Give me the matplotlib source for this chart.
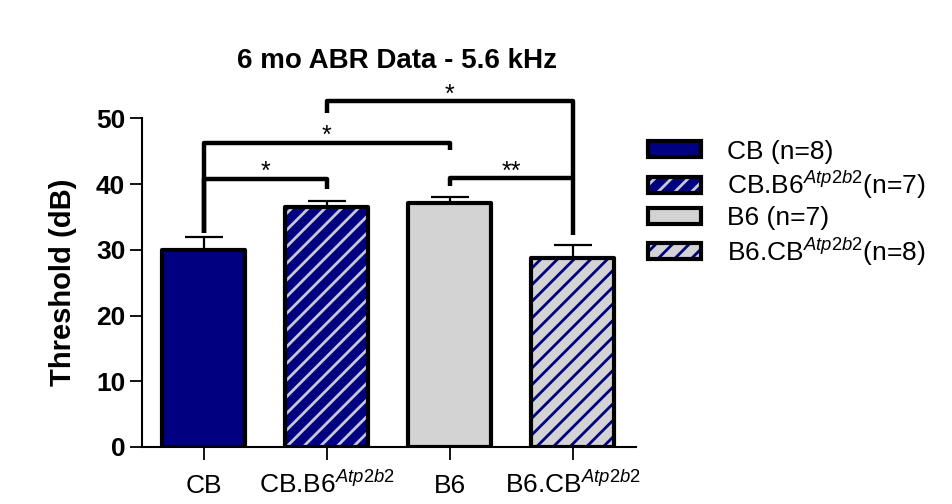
import matplotlib
matplotlib.use("Agg")
import matplotlib.pyplot as plt
from matplotlib.patches import Patch
from matplotlib.legend_handler import HandlerTuple

plt.rcParams['font.family'] = ['Liberation Sans', 'DejaVu Sans']
plt.rcParams['mathtext.fontset'] = 'custom'
plt.rcParams['mathtext.rm'] = 'Liberation Sans'
plt.rcParams['mathtext.it'] = 'Liberation Sans:italic'
plt.rcParams['mathtext.bf'] = 'Liberation Sans:bold'
plt.rcParams['hatch.linewidth'] = 2.0

# ---- data ----
categories = ['CB', r'CB.B6$^{\mathit{Atp2b2}}$', 'B6', r'B6.CB$^{\mathit{Atp2b2}}$']
legend_labels = ['CB (n=8)', r'CB.B6$^{\mathit{Atp2b2}}$(n=7)', 'B6 (n=7)',
                 r'B6.CB$^{\mathit{Atp2b2}}$(n=8)']
means = [30.0, 36.5, 37.1, 28.8]
sems = [1.9, 0.9, 1.0, 2.0]
yticks = [0, 10, 20, 30, 40, 50]

# significance brackets: (left group, right group, bar height, left leg end, right leg end, label)
sig_left = [0, 0, 1, 2]
sig_right = [1, 2, 3, 3]
sig_height = [40.8, 46.3, 52.6, 40.9]
sig_left_end = [32.6, 32.6, 50.8, 39.7]
sig_right_end = [39.2, 45.2, 32.3, 40.9]
sig_labels = ['*', '*', '*', '**']

navy = '#000080'
lgray = '#d3d3d3'
hatch_on_navy = '#c8c8d4'
face_colors = [navy, navy, lgray, lgray]
hatch_colors = [navy, hatch_on_navy, lgray, navy]
hatches = [None, '//', None, '//']

fig = plt.figure(figsize=(9.52, 5.04), dpi=100)
ax = fig.add_axes([142/952, 1-447/504, (636-142)/952, (447-118.5)/504])

x = list(range(len(categories)))
width = 0.675
handles = []
for i in x:
    ax.bar(i, means[i], width, color=face_colors[i], edgecolor=hatch_colors[i],
           hatch=hatches[i], linewidth=0, zorder=2)
    ax.bar(i, means[i], width, facecolor='none', edgecolor='black',
           linewidth=3, zorder=3, joinstyle='round')
    ax.errorbar(i, means[i], yerr=[[0], [sems[i]]], fmt='none', ecolor='black',
                elinewidth=1.6, capsize=14, capthick=1.6, zorder=1)
    p1 = Patch(facecolor=face_colors[i], edgecolor=hatch_colors[i], hatch=hatches[i], linewidth=0)
    p2 = Patch(facecolor='none', edgecolor='black', linewidth=3, joinstyle='round')
    handles.append((p1, p2))

for l, r, h, le, re, lab in zip(sig_left, sig_right, sig_height, sig_left_end,
                                sig_right_end, sig_labels):
    ax.plot([l, l, r, r], [le, h, h, re], color='black', lw=3.2,
            solid_joinstyle='round', solid_capstyle='butt', clip_on=False, zorder=4)
    ax.text((l + r) / 2, h - 0.8, lab, ha='center', va='bottom', fontsize=18,
            clip_on=False)

ax.set_xlim(-0.5, 3.515)
ax.set_ylim(0, 50)
ax.set_xticks(x)
ax.set_xticklabels(categories, fontsize=19)
for t in ax.get_xticklabels():
    t.set_va('baseline')
ax.set_yticks(yticks)
ax.set_yticklabels([str(t) for t in yticks], fontsize=19, fontweight='bold')
ax.set_ylabel('Threshold (dB)', fontsize=21, fontweight='bold', labelpad=14)
ax.spines['top'].set_visible(False)
ax.spines['right'].set_visible(False)
for s in ['left', 'bottom']:
    ax.spines[s].set_linewidth(1.5)
ax.tick_params(axis='both', length=9, width=1.3)
ax.tick_params(axis='y', pad=3)
ax.tick_params(axis='x', pad=24)

fig.text(397/952, 1-61/504, '6 mo ABR Data - 5.6 kHz', ha='center', va='center',
         fontsize=20, fontweight='bold')

fig.legend(handles, legend_labels, handler_map={tuple: HandlerTuple(ndivide=1)},
           loc='upper left', bbox_to_anchor=(624/952, 1-116/504), frameon=False,
           fontsize=19, handlelength=2.0, handleheight=0.55, labelspacing=0.2,
           handletextpad=1.0)

fig.savefig('out.png', dpi=100)
